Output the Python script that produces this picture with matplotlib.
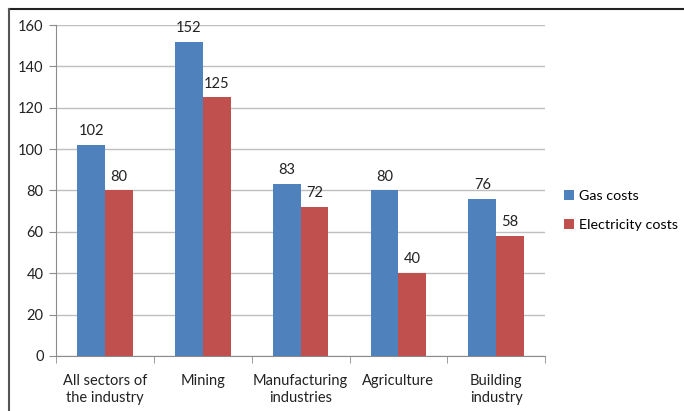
import numpy as np
import matplotlib.pyplot as plt
from matplotlib.lines import Line2D

categories = ['All sectors of\nthe industry', 'Mining', 'Manufacturing\nindustries',
              'Agriculture', 'Building\nindustry']
gas_costs = [102, 152, 83, 80, 76]
electricity_costs = [80, 125, 72, 40, 58]

plt.rcParams['font.family'] = ['Lato', 'DejaVu Sans']

fig = plt.figure(figsize=(6.84, 4.11), dpi=100)
ax = fig.add_axes([0.082, 0.134, 0.715, 0.805])

x = np.arange(len(categories))
w = 0.285
b1 = ax.bar(x - w / 2, gas_costs, w, color='#4F81BD', label='Gas costs', zorder=3)
b2 = ax.bar(x + w / 2, electricity_costs, w, color='#C0504D', label='Electricity costs', zorder=3)

for bars in (b1, b2):
    for rect in bars:
        ax.annotate(f'{rect.get_height():.0f}', (rect.get_x() + rect.get_width() / 2, rect.get_height()),
                    xytext=(0, 5), textcoords='offset points', ha='center', va='bottom',
                    fontsize=10.5, color='#222222')

ax.set_xlim(-0.5, len(categories) - 0.5)
ax.set_ylim(0, 160)
ax.set_yticks(np.arange(0, 161, 20))
ax.yaxis.grid(True, color='#bfbfbf', linewidth=1, zorder=0)
ax.set_xticks(x)
ax.set_xticklabels(categories, fontsize=10.5, color='#222222', linespacing=1.3)
ax.set_xticks(np.arange(-0.5, len(categories)), minor=True)
ax.tick_params(axis='x', which='major', length=0, pad=13)
ax.tick_params(axis='x', which='minor', length=5, color='#8c8c8c')
ax.tick_params(axis='y', length=5, color='#8c8c8c', labelsize=10.5, labelcolor='#222222', pad=4)

for s in ('top', 'right'):
    ax.spines[s].set_visible(False)
for s in ('left', 'bottom'):
    ax.spines[s].set_color('#8c8c8c')

ax.legend(loc='center left', bbox_to_anchor=(1.02, 0.44), frameon=False, fontsize=10.3,
          handlelength=0.7, handleheight=0.7, handletextpad=0.35, labelspacing=1.15,
          borderaxespad=0.2)

fig.add_artist(Line2D([9 / 684, 1], [1 - 9 / 411, 1 - 9 / 411], color='#222222', linewidth=1.5))
fig.add_artist(Line2D([9 / 684, 9 / 684], [0, 1 - 9 / 411], color='#555555', linewidth=1.5))

fig.savefig('out.png', dpi=100)
